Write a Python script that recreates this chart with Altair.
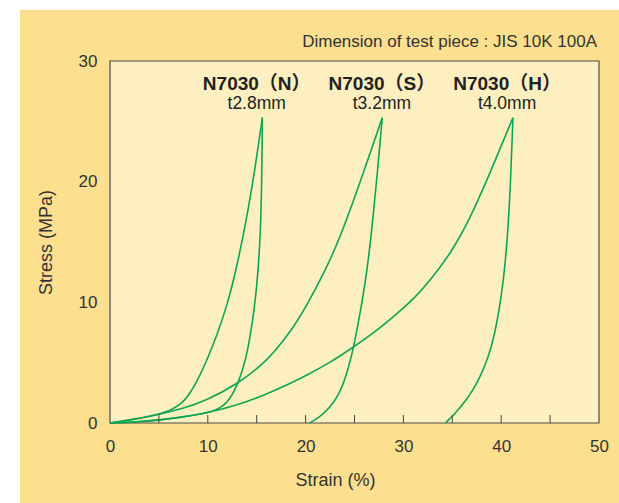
import altair as alt
import pandas as pd

# ---- data ----
n_load_x = [0, 2, 4, 5.3, 6.3, 7.2, 8, 9, 9.9, 10.9, 12.0, 12.9, 13.9, 14.8, 15.58]
n_load_y = [0, 0.25, 0.55, 0.8, 1.1, 1.55, 2.2, 3.6, 5.2, 7.2, 9.8, 12.7, 16.6, 20.9, 25.3]
n_unld_x = [0, 3, 5, 7, 9, 10.7, 12.1, 13.1, 13.6, 14.1, 14.8, 15.15, 15.4, 15.52, 15.58]
n_unld_y = [0, 0.1, 0.25, 0.45, 0.7, 0.96, 1.66, 3.3, 4.5, 6.0, 9.6, 12.6, 16.0, 20.0, 25.3]

s_load_x = [0, 2.5, 4.9, 7.5, 9.7, 13.1, 15.5, 16.7, 18.5, 20.1, 22.0, 23.6, 25.6, 27.84]
s_load_y = [0, 0.3, 0.69, 1.2, 1.8, 3.26, 4.8, 5.8, 7.6, 9.7, 12.6, 15.5, 20.0, 25.3]
s_unld_x = [20.4, 21.4, 22.4, 23.4, 24.2, 24.9, 25.6, 26.3, 26.95, 27.4, 27.84]
s_unld_y = [0, 0.45, 1.2, 2.3, 4.0, 6.2, 9.2, 12.6, 17.4, 21.3, 25.3]

h_load_x = [0, 2.5, 4.9, 7.5, 10, 13.1, 15.9, 18.5, 20.1, 22.5, 24.9, 27.2, 29.4, 31.2,
            32.8, 34.8, 36.8, 38.8, 41.2]
h_load_y = [0, 0.07, 0.22, 0.5, 0.83, 1.5, 2.35, 3.3, 3.95, 5.0, 6.3, 7.6, 9.1, 10.4,
            11.9, 14.0, 16.9, 20.6, 25.3]
h_unld_x = [34.3, 35.3, 36.2, 37.1, 37.9, 38.7, 39.3, 40.0, 40.5, 40.9, 41.2]
h_unld_y = [0, 0.8, 1.66, 2.7, 3.9, 5.5, 7.2, 10.3, 13.8, 18.6, 25.3]

label_names = ["N7030（N）", "N7030（S）", "N7030（H）"]
label_thick = ["t2.8mm", "t3.2mm", "t4.0mm"]
label_x = [15.0, 27.8, 40.6]
label_y_name = [28.1, 28.1, 28.1]
label_y_thick = [26.4, 26.4, 26.4]

x_tick_values = [0, 10, 20, 30, 40, 50]
y_tick_values = [0, 10, 20, 30]
minor_ticks = [5, 10, 15, 20, 25, 30, 35, 40, 45]

title_text = "Dimension of test piece : JIS 10K 100A"

# ---- build tables ----
curves = [
    ("N load", n_load_x, n_load_y),
    ("N unload", n_unld_x, n_unld_y),
    ("S load", s_load_x, s_load_y),
    ("S unload", s_unld_x, s_unld_y),
    ("H load", h_load_x, h_load_y),
    ("H unload", h_unld_x, h_unld_y),
]
rows = []
for name, xs_, ys_ in curves:
    for x, y in zip(xs_, ys_):
        rows.append({"curve": name, "strain": x, "stress": y})
df = pd.DataFrame(rows)

lab = pd.DataFrame({
    "name": label_names,
    "thick": label_thick,
    "x": label_x,
    "yn": label_y_name,
    "yt": label_y_thick,
})
ticks = pd.DataFrame({"t": minor_ticks})
one = pd.DataFrame({"a": [0]})
ttl = pd.DataFrame({"t": [title_text]})

W, H = 489, 362
FONT = "Liberation Sans"
TXT = "#333333"
GREEN = "#0ea552"
OUTER = "#fde08f"
INNER = "#feefc0"

xs = alt.Scale(domain=[0, 50], nice=False)
ys = alt.Scale(domain=[0, 30], nice=False)

outer = alt.Chart(one).mark_rect(color=OUTER, clip=False).encode(
    x=alt.value(-90), x2=alt.value(W + 30), y=alt.value(-51), y2=alt.value(H + 90)
)
inner = alt.Chart(one).mark_rect(color=INNER, stroke="#4a4a4a", strokeWidth=1.2).encode(
    x=alt.value(0), x2=alt.value(W), y=alt.value(0), y2=alt.value(H)
)

lines = alt.Chart(df).mark_line(color=GREEN, strokeWidth=1.6, interpolate="basis").encode(
    x=alt.X("strain:Q", scale=xs,
            axis=alt.Axis(values=x_tick_values, title="Strain (%)", grid=False,
                          domain=False, ticks=False, labelPadding=15, labelFontSize=17,
                          labelFlush=False,
                          labelFont=FONT, labelColor=TXT, titleFont=FONT, titleFontSize=18,
                          titleFontWeight="normal", titleColor=TXT, titleX=225, titleY=57,
                          titleBaseline="middle", zindex=1)),
    y=alt.Y("stress:Q", scale=ys,
            axis=alt.Axis(values=y_tick_values, title="Stress (MPa)", grid=False,
                          domain=False, ticks=False, labelPadding=13, labelFontSize=17,
                          labelFlush=False,
                          labelFont=FONT, labelColor=TXT, titleFont=FONT, titleFontSize=18,
                          titleFontWeight="normal", titleColor=TXT, titleX=-64, titleY=181,
                          titleAngle=-90, titleBaseline="middle", titleAlign="center",
                          zindex=1)),
    detail="curve:N",
)

tick_marks = alt.Chart(ticks).mark_rule(color="#444444", strokeWidth=1).encode(
    x=alt.X("t:Q", scale=xs), y=alt.value(H), y2=alt.value(H - 8)
)

names = alt.Chart(lab).mark_text(font=FONT + ", Noto Sans CJK JP", fontSize=19,
                                 fontWeight="bold", color="#222222", baseline="middle").encode(
    x=alt.X("x:Q", scale=xs), y=alt.Y("yn:Q", scale=ys), text="name:N"
)
thick = alt.Chart(lab).mark_text(font=FONT, fontSize=17.5, color="#222222",
                                 baseline="middle").encode(
    x=alt.X("x:Q", scale=xs), y=alt.Y("yt:Q", scale=ys), text="thick:N"
)
title = alt.Chart(ttl).mark_text(font=FONT, fontSize=17, color=TXT, align="right",
                                 baseline="middle", clip=False).encode(
    x=alt.value(W - 2), y=alt.value(-19), text="t:N"
)

chart = alt.layer(outer, inner, lines, tick_marks, names, thick, title).properties(
    width=W, height=H,
    autosize=alt.AutoSizeParams(type="none"),
    padding={"left": 110, "top": 61, "right": 20, "bottom": 80},
    background="white",
).configure_view(stroke=None)

chart.save("out.html", embed_options={"renderer": "svg", "actions": False})
